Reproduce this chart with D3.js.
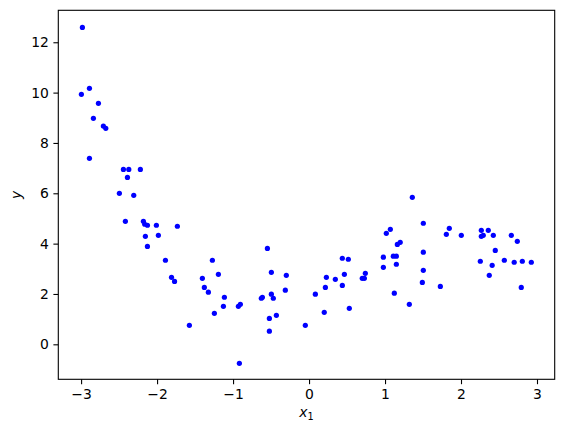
<!DOCTYPE html>
<html>
<head>
<meta charset="utf-8">
<script src="https://cdn.jsdelivr.net/npm/d3@7"></script>
<style>
  body { margin: 0; background: #fff; }
  svg { display: block; }
  text { font-family: "DejaVu Sans", sans-serif; }
</style>
</head>
<body>
<div id="chart"></div>
<script>
// values
var xs = [-2.983, -2.996, -2.89, -2.772, -2.838, -2.707, -2.675, -2.89, -2.443, -2.372,
  -2.39, -2.22, -2.496, -2.307, -2.417, -2.18, -2.162, -2.127, -2.009, -1.733,
  -2.154, -1.983, -2.127, -1.89, -1.81, -1.77, -1.575, -1.404, -1.378, -1.325,
  -1.272, -1.193, -1.114, -1.127, -1.246, -0.93, -0.904, -0.917, -0.628, -0.614,
  -0.548, -0.496, -0.496, -0.47, -0.522, -0.522, -0.43, -0.312, -0.299, -0.049,
  0.083, 0.20, 0.215, 0.228, 0.346, 0.438, 0.465, 0.438, 0.517, 0.53,
  0.70, 0.728, 0.741, 0.978, 0.978, 1.017, 1.07, 1.109, 1.149, 1.149,
  1.122, 1.162, 1.20, 1.32, 1.359, 1.504, 1.504, 1.504, 1.491, 1.728,
  1.846, 1.807, 2.004, 2.267, 2.359, 2.267, 2.293, 2.425, 2.662, 2.741,
  2.451, 2.254, 2.57, 2.70, 2.807, 2.925, 2.41, 2.372, 2.793];
var ys = [12.59, 9.93, 10.17, 9.575, 8.98, 8.67, 8.58, 7.39, 6.95, 6.95,
  6.63, 6.95, 6.0, 5.92, 4.887, 4.887, 4.77, 4.73, 4.73, 4.69,
  4.29, 4.33, 3.89, 3.34, 2.66, 2.50, 0.755, 2.62, 2.26, 2.07,
  3.34, 2.78, 1.87, 1.51, 1.23, 1.51, 1.59, -0.755, 1.83, 1.87,
  3.81, 2.86, 1.99, 1.83, 1.03, 0.52, 1.15, 2.15, 2.74, 0.755,
  1.99, 1.27, 2.26, 2.66, 2.58, 2.34, 2.78, 3.42, 3.38, 1.43,
  2.62, 2.62, 2.82, 3.46, 3.06, 4.41, 4.57, 3.50, 3.50, 3.18,
  2.03, 3.97, 4.05, 1.59, 5.84, 4.81, 3.66, 2.94, 2.46, 2.30,
  4.61, 4.37, 4.33, 4.53, 4.53, 4.29, 4.33, 4.33, 4.33, 4.09,
  3.73, 3.30, 3.34, 3.26, 3.30, 3.26, 3.14, 2.74, 2.26];
var xTicks = [-3, -2, -1, 0, 1, 2, 3];
var yTicks = [0, 2, 4, 6, 8, 10, 12];

var W = 564, H = 433;
var margin = {top: 10.3, right: 9.3, bottom: 53.7, left: 58.3},
    width = W - margin.left - margin.right,
    height = H - margin.top - margin.bottom;

var x = d3.scaleLinear().domain([-3.30, 3.233]).range([0, width]);
var y = d3.scaleLinear().domain([-1.39, 13.27]).range([height, 0]);

var svg = d3.select('#chart').append('svg')
    .attr('width', W)
    .attr('height', H);

var g = svg.append('g')
    .attr('transform', 'translate(' + margin.left + ',' + margin.top + ')');

var fmt = function(d) { return String(d).replace('-', '\u2212'); };

// x axis
var xAxis = g.append('g')
    .attr('transform', 'translate(0,' + height + ')')
    .call(d3.axisBottom(x).tickValues(xTicks).tickFormat(fmt).tickSize(4.9).tickPadding(4.5));

// y axis
var yAxis = g.append('g')
    .call(d3.axisLeft(y).tickValues(yTicks).tickFormat(fmt).tickSize(4.9).tickPadding(4.5));

[xAxis, yAxis].forEach(function(a) {
  a.select('.domain').remove();
  a.selectAll('line').attr('stroke', '#000').attr('stroke-width', 1.1);
  a.selectAll('text')
    .attr('fill', '#000')
    .style('font-family', '"DejaVu Sans", sans-serif')
    .style('font-size', '13.9px');
});

// frame
g.append('rect')
    .attr('width', width)
    .attr('height', height)
    .attr('fill', 'none')
    .attr('stroke', '#000')
    .attr('stroke-width', 1.1);

// points
g.selectAll('circle.pt')
    .data(d3.range(xs.length))
    .enter().append('circle')
    .attr('class', 'pt')
    .attr('cx', function(i) { return x(xs[i]); })
    .attr('cy', function(i) { return y(ys[i]); })
    .attr('r', 2.6)
    .attr('fill', '#0000ff');

// axis labels
var xl = svg.append('text')
    .attr('x', margin.left + width / 2)
    .attr('y', 417)
    .attr('text-anchor', 'middle')
    .style('font-size', '13.9px');
xl.append('tspan').style('font-style', 'italic').text('x');
xl.append('tspan').attr('dy', 3).style('font-size', '9.7px').text('1');

svg.append('text')
    .attr('transform', 'translate(21,' + (margin.top + height / 2) + ') rotate(-90)')
    .attr('text-anchor', 'middle')
    .style('font-size', '13.9px')
    .style('font-style', 'italic')
    .text('y');
</script>
</body>
</html>
